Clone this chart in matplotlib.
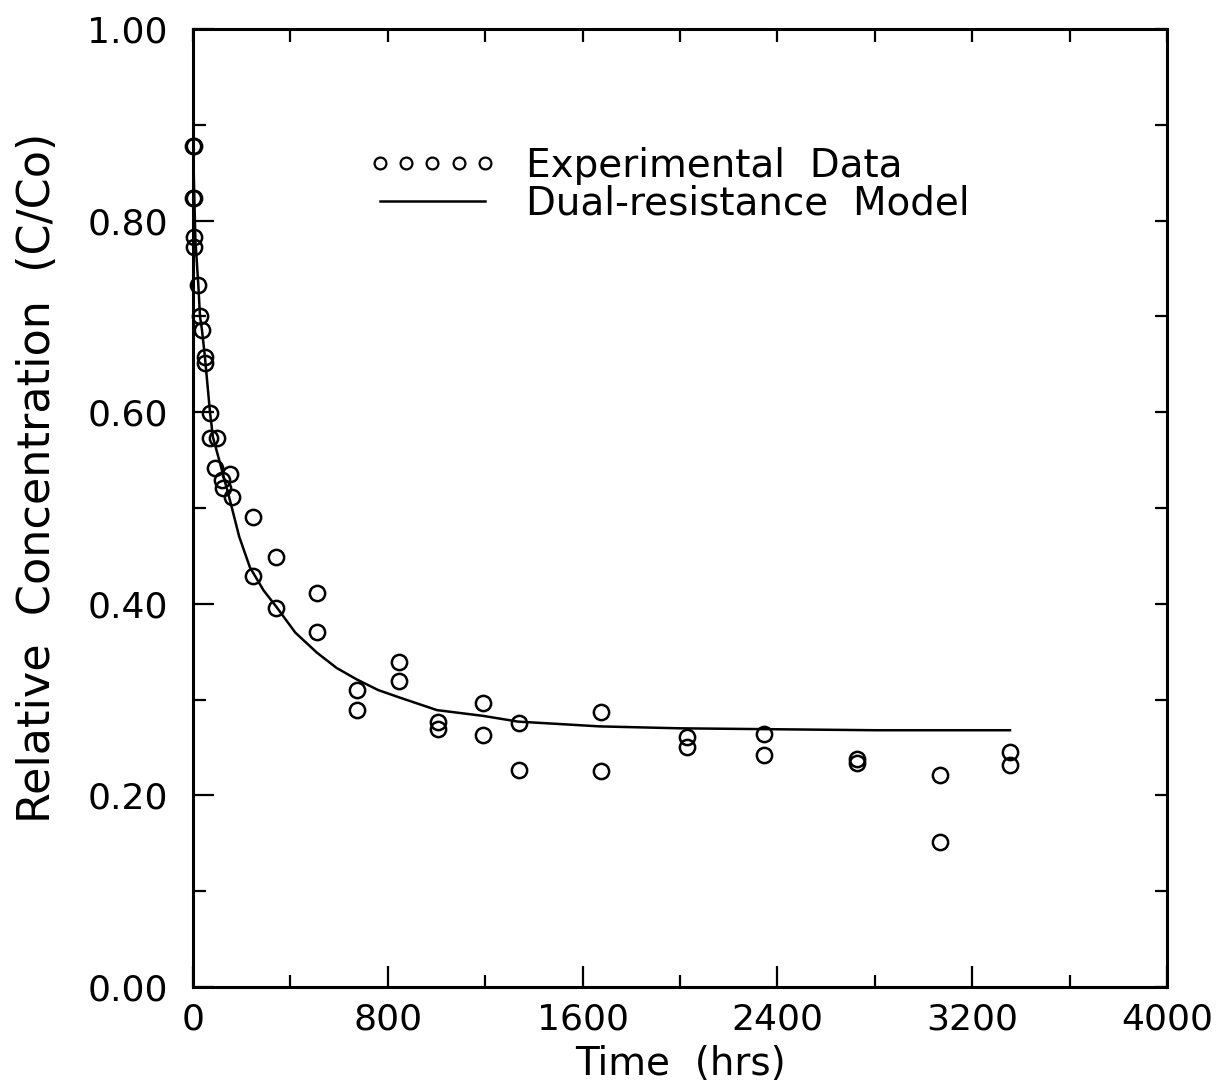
import numpy as np
import matplotlib.pyplot as plt
from matplotlib.lines import Line2D

# experimental points
exp_time = [0, 3, 0, 3, 5, 5, 22, 29, 37, 49, 49, 70, 70, 99, 90, 152, 119, 123, 160,
            246, 246, 341, 341, 509, 509, 673, 673, 845, 845, 1008, 1008, 1191, 1191,
            1339, 1339, 1675, 1675, 2030, 2030, 2345, 2345, 2726, 2726, 3066, 3066,
            3355, 3355]
exp_conc = [0.878, 0.878, 0.824, 0.824, 0.783, 0.772, 0.733, 0.700, 0.686, 0.658, 0.651,
            0.599, 0.573, 0.573, 0.542, 0.536, 0.529, 0.521, 0.512,
            0.491, 0.429, 0.449, 0.396, 0.411, 0.371, 0.310, 0.289, 0.339, 0.319,
            0.277, 0.269, 0.296, 0.263, 0.276, 0.226, 0.287, 0.225, 0.261, 0.251,
            0.264, 0.242, 0.238, 0.234, 0.221, 0.151, 0.245, 0.232]

# dual-resistance model curve
model_time = [0, 5, 10, 22, 29, 37, 49, 70, 82, 111, 152, 190, 234, 290, 345, 420, 509,
              590, 673, 760, 850, 1002, 1191, 1335, 1671, 2000, 2400, 2800, 3355]
model_conc = [0.885, 0.83, 0.78, 0.733, 0.70, 0.686, 0.658, 0.60, 0.574, 0.547, 0.508,
              0.47, 0.438, 0.414, 0.396, 0.37, 0.349, 0.333, 0.321, 0.31, 0.302, 0.289,
              0.283, 0.277, 0.272, 0.270, 0.269, 0.268, 0.268]

xticks = [0, 800, 1600, 2400, 3200, 4000]
yticks = [0.0, 0.2, 0.4, 0.6, 0.8, 1.0]

plt.rcParams['font.family'] = 'DejaVu Sans'

fig = plt.figure(figsize=(12.29, 10.92), dpi=100)
ax = fig.add_axes([0.157, 0.0962, 0.7926, 0.8772])

ax.plot(model_time, model_conc, color='black', lw=1.8)
ax.plot(exp_time, exp_conc, 'o', ms=11, mfc='none', mec='black', mew=1.8, clip_on=False)

ax.set_xlim(0, 4000)
ax.set_ylim(0, 1.0)
ax.set_xticks(xticks)
ax.set_xticks(np.arange(0, 4001, 400), minor=True)
ax.set_yticks(yticks)
ax.set_yticks(np.arange(0, 1.001, 0.1), minor=True)
ax.set_yticklabels([f'{v:.2f}' for v in yticks])

ax.tick_params(which='major', direction='in', length=15, width=1.6, labelsize=26, pad=18)
ax.tick_params(which='minor', direction='in', length=9, width=1.6)
ax.tick_params(axis='x', which='major', pad=11)
for s in ax.spines.values():
    s.set_linewidth(2.2)

top = ax.secondary_xaxis('top')
top.set_xticks(np.arange(0, 4001, 400))
top.tick_params(direction='in', length=9, width=1.6, labeltop=False)
top.spines['top'].set_visible(False)
right = ax.secondary_yaxis('right')
right.set_yticks(np.arange(0, 1.001, 0.1))
right.tick_params(direction='in', length=9, width=1.6, labelright=False)
right.spines['right'].set_visible(False)

ax.set_xlabel('Time  (hrs)', fontsize=28, labelpad=6)
ax.set_ylabel('Relative  Concentration  (C/Co)', fontsize=32)
ax.yaxis.set_label_coords(-0.138, 0.531)

handles = [Line2D([], [], ls='none', marker='o', ms=8.5, mfc='none', mec='black', mew=1.6),
           Line2D([], [], color='black', lw=1.8)]
ax.legend(handles, ['Experimental  Data', 'Dual-resistance  Model'], numpoints=5,
          loc='upper left', bbox_to_anchor=(0.18, 0.877), frameon=False, fontsize=28,
          handlelength=3.3, handletextpad=0.75, labelspacing=0.0, borderpad=0,
          borderaxespad=0)

fig.savefig('out.png', dpi=100)
